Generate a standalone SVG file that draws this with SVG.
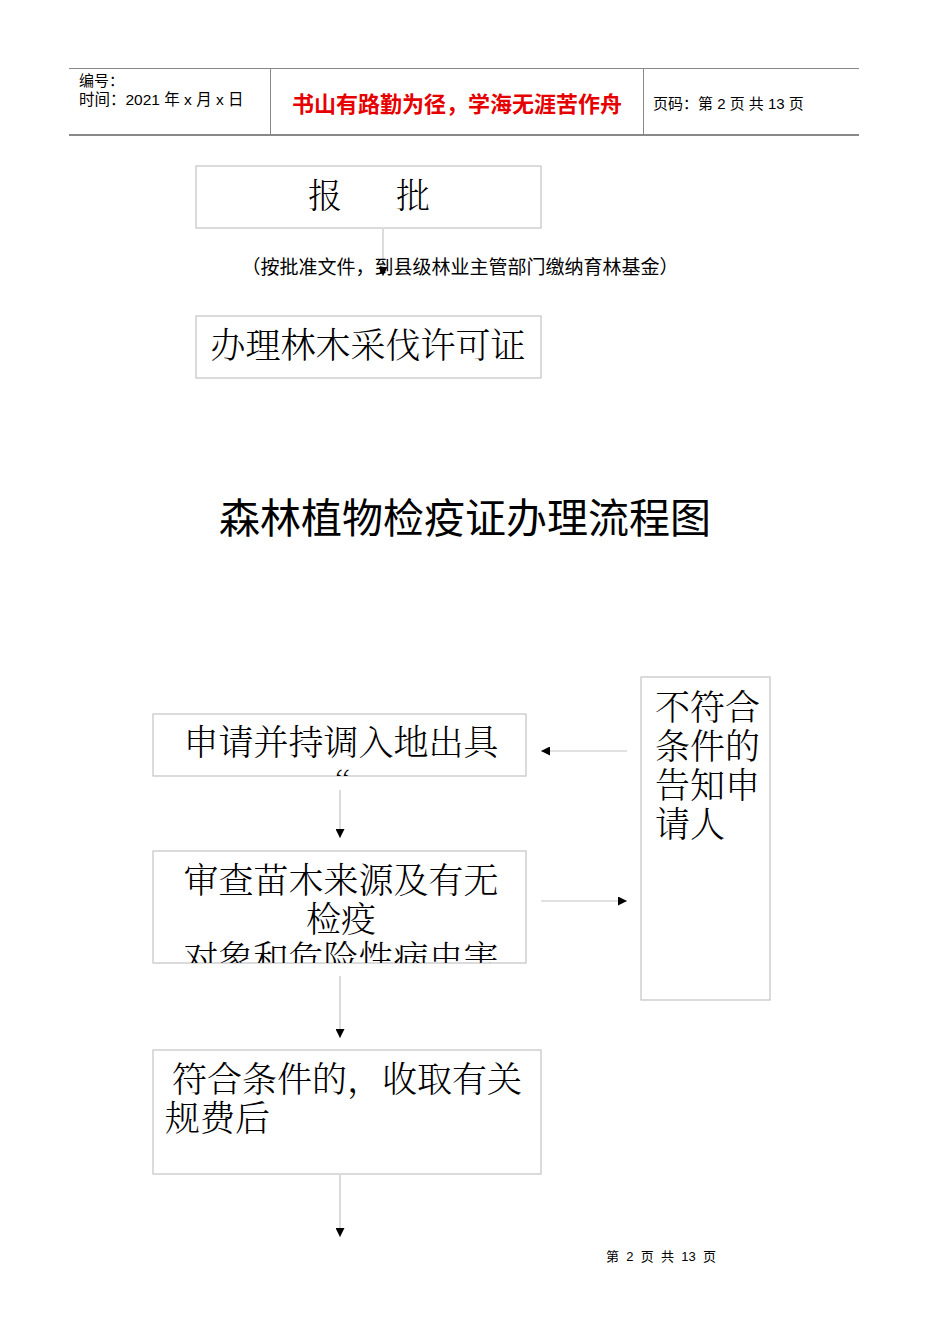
<svg xmlns="http://www.w3.org/2000/svg" width="950" height="1344" viewBox="0 0 950 1344">
<style>
.box{fill:#fff;stroke:#c4c4c4;stroke-width:1.2}
.t{font-family:"Noto Serif CJK SC","Noto Sans CJK SC",serif;font-weight:300;fill:#000}
.s{font-family:"Liberation Sans","Noto Sans CJK SC",sans-serif;fill:#000}
.ln{stroke:#c4c4c4;stroke-width:1.2;fill:none}
.hd{stroke:#888;fill:none}
</style>
<defs>
<marker id="ah" viewBox="0 0 10 10" refX="10" refY="5" markerWidth="9" markerHeight="9" markerUnits="userSpaceOnUse" orient="auto">
<path d="M0,0 L10,5 L0,10 Z" fill="#000"/>
</marker>
<clipPath id="c1"><rect x="153" y="714" width="373" height="62"/></clipPath>
<clipPath id="c2"><rect x="153" y="851" width="373" height="112"/></clipPath>
</defs>
<g id="header">
<line class="hd" x1="69" y1="68.5" x2="859" y2="68.5" stroke-width="1"/>
<line class="hd" x1="69" y1="135" x2="859" y2="135" stroke-width="2"/>
<line class="hd" x1="270.5" y1="68" x2="270.5" y2="135" stroke-width="1"/>
<line class="hd" x1="643.5" y1="68" x2="643.5" y2="135" stroke-width="1"/>
<text class="s" x="79" y="86" font-size="15">编号：</text>
<text class="s" x="79" y="105" font-size="15.5">时间：2021 年 x 月 x 日</text>
<text class="s" x="457" y="112" font-size="22" font-weight="bold" style="fill:#e60000" text-anchor="middle">书山有路勤为径，学海无涯苦作舟</text>
<text class="s" x="653" y="109" font-size="15">页码：第 2 页  共 13 页</text>
</g>
<g id="connectors">
<line class="ln" x1="383" y1="229" x2="383" y2="276" marker-end="url(#ah)"/>
<line class="ln" x1="627" y1="751" x2="541" y2="751" marker-end="url(#ah)"/>
<line class="ln" x1="340" y1="790" x2="340" y2="838" marker-end="url(#ah)"/>
<line class="ln" x1="541" y1="901" x2="627" y2="901" marker-end="url(#ah)"/>
<line class="ln" x1="340" y1="976" x2="340" y2="1038" marker-end="url(#ah)"/>
<line class="ln" x1="340" y1="1175" x2="340" y2="1237" marker-end="url(#ah)"/>
</g>
<g id="label1">
<text class="s" x="460" y="274" font-size="19" text-anchor="middle">（按批准文件，到县级林业主管部门缴纳育林基金）</text>
</g>
<g id="n_baopi">
<rect class="box" x="196" y="166" width="345" height="62"/>
<text class="t" x="325" y="208" font-size="34" text-anchor="middle">报</text>
<text class="t" x="413" y="208" font-size="34" text-anchor="middle">批</text>
</g>
<g id="n_banli">
<rect class="box" x="196" y="316" width="345" height="62"/>
<text class="t" x="368" y="358" font-size="35" text-anchor="middle">办理林木采伐许可证</text>
</g>
<g id="title">
<text class="s" x="465" y="533" font-size="41" text-anchor="middle">森林植物检疫证办理流程图</text>
</g>
<g id="n_shenqing">
<rect class="box" x="153" y="714" width="373" height="62"/>
<text class="t" x="341" y="755" font-size="35" text-anchor="middle">申请并持调入地出具</text>
<text class="t" x="334" y="800" font-size="35" text-anchor="middle" clip-path="url(#c1)">“</text>
</g>
<g id="n_shencha">
<rect class="box" x="153" y="851" width="373" height="112"/>
<g clip-path="url(#c2)">
<text class="t" x="341" y="893" font-size="35" text-anchor="middle">审查苗木来源及有无</text>
<text class="t" x="341" y="932" font-size="35" text-anchor="middle">检疫</text>
<text class="t" x="341" y="971" font-size="35" text-anchor="middle">对象和危险性病虫害</text>
</g>
</g>
<g id="n_bufuhe">
<rect class="box" x="641" y="677" width="129" height="323"/>
<text class="t" x="655" y="720" font-size="35">不符合</text>
<text class="t" x="655" y="759" font-size="35">条件的</text>
<text class="t" x="655" y="798" font-size="35">告知申</text>
<text class="t" x="655" y="837" font-size="35">请人</text>
</g>
<g id="n_fuhe">
<rect class="box" x="153" y="1050" width="388" height="124"/>
<text class="t" x="172" y="1092" font-size="35">符合条件的，收取有关</text>
<text class="t" x="165" y="1131" font-size="35">规费后</text>
</g>
<g id="footer">
<text class="s" x="661" y="1261" font-size="13" text-anchor="middle" xml:space="preserve">第  2  页  共  13  页</text>
</g>
</svg>
